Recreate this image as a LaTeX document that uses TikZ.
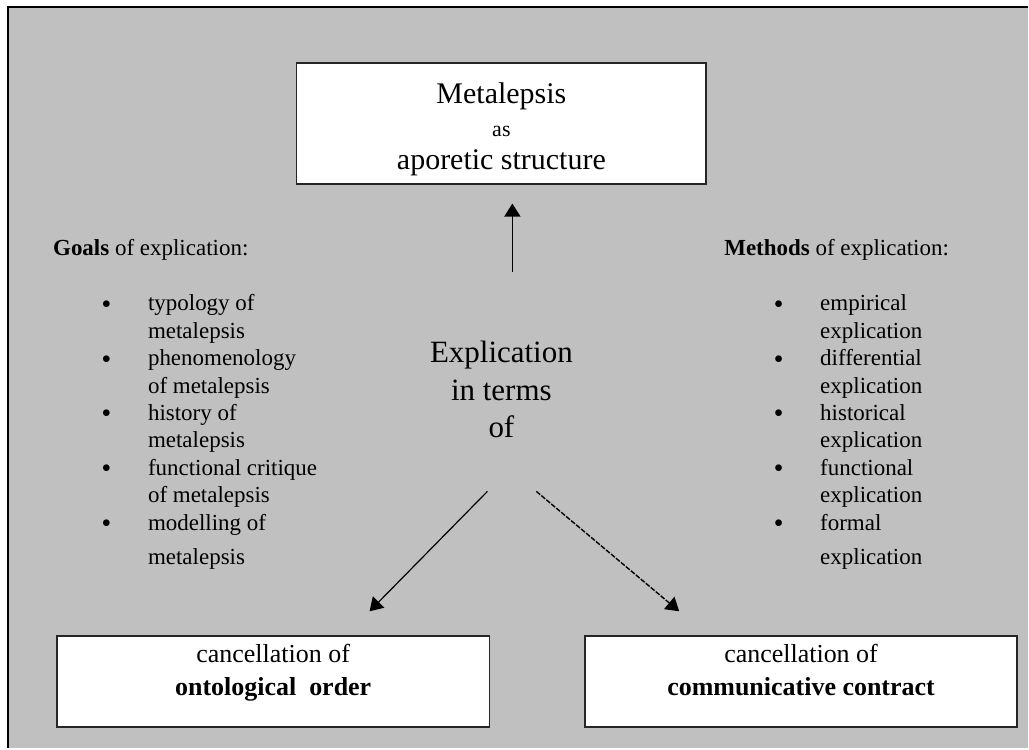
\documentclass[tikz,border=0pt]{standalone}
\usepackage{fontspec}
\setmainfont{Liberation Serif}
\usetikzlibrary{arrows.meta}

\definecolor{panelgray}{HTML}{C0C0C0}

\newcommand{\dotmark}{\raisebox{2.5pt}{\fontsize{18}{18}\selectfont$\bullet$}}

\tikzset{
  box/.style={draw=black!85, line width=1.6pt, fill=white, align=center},
  pointer/.style={-{Triangle[width=16pt,length=13pt]}, line width=1.4pt},
}

\begin{document}
\begin{tikzpicture}[x=1pt, y=-1pt]
    % panel
    \fill[white] (0,0) rectangle (1029,749);
    \fill[panelgray] (8,7) rectangle (1029,749);
    \draw[line width=2.5pt] (8,749) -- (8,7) -- (1029,7);
    \useasboundingbox (0,0) rectangle (1029,749);

    \node (metalepsis) at (502, 123.5)
      [box, minimum width=410pt, minimum height=121pt, font=\fontsize{30}{33}\selectfont]
      { \rule{0pt}{33pt}Metalepsis \\ {\fontsize{22}{22}\selectfont as} \\ aporetic structure };

    \node (explication) at (502, 390)
      [align=center, font=\fontsize{31}{37.5}\selectfont]
      { Explication \\ in terms \\ of };

    \node (goals) at (53, 256)
      [anchor=base west, inner sep=0pt, font=\fontsize{23}{27.5}\selectfont]
      { \textbf{Goals} of explication: };
    \node (goallist) at (102, 311)
      [anchor=base west, inner sep=0pt, font=\fontsize{23}{27.5}\selectfont]
      { \begin{tabular}[t]{@{}p{46pt}@{}l@{}}
          \dotmark & typology of \\
                   & metalepsis \\
          \dotmark & phenomenology \\
                   & of metalepsis \\
          \dotmark & history of \\
                   & metalepsis \\
          \dotmark & functional critique \\
                   & of metalepsis \\
          \dotmark & modelling of \\[7pt]
                   & metalepsis
        \end{tabular} };

    \node (methods) at (725, 256)
      [anchor=base west, inner sep=0pt, font=\fontsize{23}{27.5}\selectfont]
      { \textbf{Methods} of explication: };
    \node (methodlist) at (775, 311)
      [anchor=base west, inner sep=0pt, font=\fontsize{23}{27.5}\selectfont]
      { \begin{tabular}[t]{@{}p{46pt}@{}l@{}}
          \dotmark & empirical \\
                   & explication \\
          \dotmark & differential \\
                   & explication \\
          \dotmark & historical \\
                   & explication \\
          \dotmark & functional \\
                   & explication \\
          \dotmark & formal \\[7pt]
                   & explication
        \end{tabular} };

    \node (ontological) at (273.5, 682.5)
      [box, minimum width=433pt, minimum height=91pt, font=\fontsize{26}{33}\selectfont]
      { cancellation of \\ \textbf{ontological\ \ order}\rule[-24pt]{0pt}{24pt} };
    \node (communicative) at (802, 682.5)
      [box, minimum width=432pt, minimum height=91pt, font=\fontsize{26}{33}\selectfont]
      { cancellation of \\ \textbf{communicative contract}\rule[-24pt]{0pt}{24pt} };

    \coordinate (uptail) at (513, 272);
    \coordinate (lefttail) at (488, 492);
    \coordinate (lefttip) at (370, 612);
    \coordinate (righttail) at (537, 492);
    \coordinate (righttip) at (680, 612);

    \draw[pointer, shorten >=19pt] (uptail) -- (uptail |- metalepsis.south);
    \draw[pointer, line width=1.2pt] (lefttail) -- (lefttip);
    \draw[pointer, line width=1.4pt, dash pattern=on 5pt off 1.5pt] (righttail) -- (righttip);
\end{tikzpicture}
\end{document}
